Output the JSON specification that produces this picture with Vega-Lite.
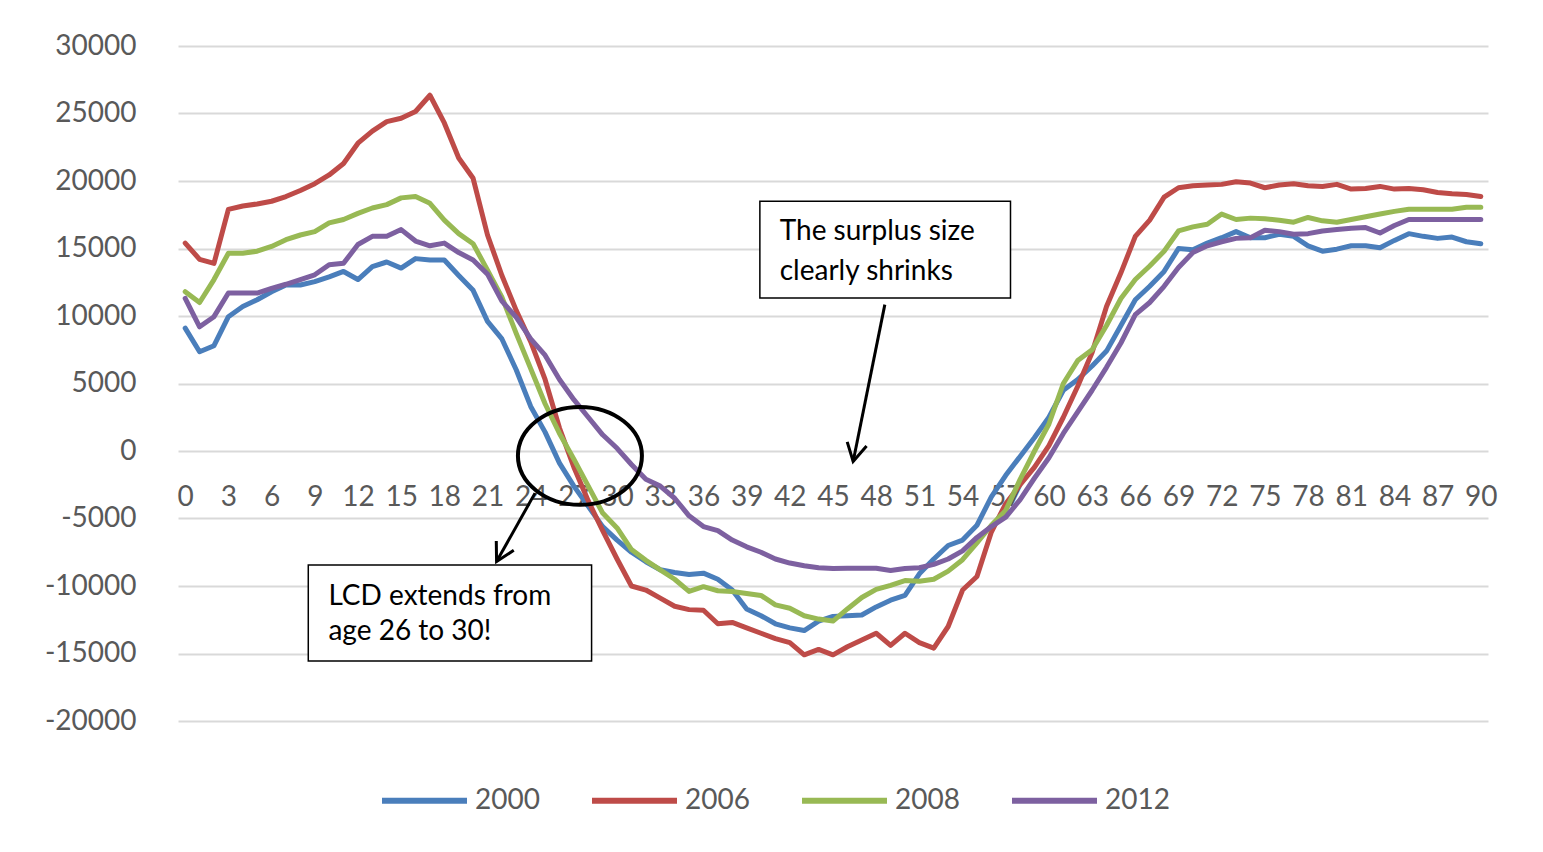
{
  "$schema": "https://vega.github.io/schema/vega-lite/v6.json",
  "width": 1310,
  "height": 675,
  "autosize": {"type": "none"},
  "padding": {"left": 178, "top": 46, "right": 55, "bottom": 131},
  "background": "white",
  "config": {"view": {"stroke": null}, "font": "Lato"},
  "datasets": {
    "series": [
      {"age":0,"year":"2000","value":9100},{"age":1,"year":"2000","value":7350},{"age":2,"year":"2000","value":7800},{"age":3,"year":"2000","value":9950},{"age":4,"year":"2000","value":10700},{"age":5,"year":"2000","value":11200},{"age":6,"year":"2000","value":11800},{"age":7,"year":"2000","value":12300},{"age":8,"year":"2000","value":12300},{"age":9,"year":"2000","value":12550},
      {"age":10,"year":"2000","value":12900},{"age":11,"year":"2000","value":13300},{"age":12,"year":"2000","value":12700},{"age":13,"year":"2000","value":13650},{"age":14,"year":"2000","value":14000},{"age":15,"year":"2000","value":13550},{"age":16,"year":"2000","value":14250},{"age":17,"year":"2000","value":14150},{"age":18,"year":"2000","value":14150},{"age":19,"year":"2000","value":13000},
      {"age":20,"year":"2000","value":11900},{"age":21,"year":"2000","value":9600},{"age":22,"year":"2000","value":8300},{"age":23,"year":"2000","value":6000},{"age":24,"year":"2000","value":3300},{"age":25,"year":"2000","value":1400},{"age":26,"year":"2000","value":-900},{"age":27,"year":"2000","value":-2600},{"age":28,"year":"2000","value":-4100},{"age":29,"year":"2000","value":-5600},
      {"age":30,"year":"2000","value":-6600},{"age":31,"year":"2000","value":-7500},{"age":32,"year":"2000","value":-8200},{"age":33,"year":"2000","value":-8800},{"age":34,"year":"2000","value":-9000},{"age":35,"year":"2000","value":-9150},{"age":36,"year":"2000","value":-9050},{"age":37,"year":"2000","value":-9500},{"age":38,"year":"2000","value":-10300},{"age":39,"year":"2000","value":-11700},
      {"age":40,"year":"2000","value":-12200},{"age":41,"year":"2000","value":-12800},{"age":42,"year":"2000","value":-13100},{"age":43,"year":"2000","value":-13300},{"age":44,"year":"2000","value":-12600},{"age":45,"year":"2000","value":-12250},{"age":46,"year":"2000","value":-12200},{"age":47,"year":"2000","value":-12150},{"age":48,"year":"2000","value":-11550},{"age":49,"year":"2000","value":-11050},
      {"age":50,"year":"2000","value":-10700},{"age":51,"year":"2000","value":-9100},{"age":52,"year":"2000","value":-8000},{"age":53,"year":"2000","value":-7000},{"age":54,"year":"2000","value":-6600},{"age":55,"year":"2000","value":-5500},{"age":56,"year":"2000","value":-3400},{"age":57,"year":"2000","value":-1800},{"age":58,"year":"2000","value":-400},{"age":59,"year":"2000","value":1000},
      {"age":60,"year":"2000","value":2500},{"age":61,"year":"2000","value":4500},{"age":62,"year":"2000","value":5300},{"age":63,"year":"2000","value":6300},{"age":64,"year":"2000","value":7400},{"age":65,"year":"2000","value":9300},{"age":66,"year":"2000","value":11200},{"age":67,"year":"2000","value":12200},{"age":68,"year":"2000","value":13300},{"age":69,"year":"2000","value":15000},
      {"age":70,"year":"2000","value":14900},{"age":71,"year":"2000","value":15400},{"age":72,"year":"2000","value":15800},{"age":73,"year":"2000","value":16250},{"age":74,"year":"2000","value":15800},{"age":75,"year":"2000","value":15800},{"age":76,"year":"2000","value":16050},{"age":77,"year":"2000","value":15900},{"age":78,"year":"2000","value":15200},{"age":79,"year":"2000","value":14800},
      {"age":80,"year":"2000","value":14950},{"age":81,"year":"2000","value":15200},{"age":82,"year":"2000","value":15200},{"age":83,"year":"2000","value":15050},{"age":84,"year":"2000","value":15600},{"age":85,"year":"2000","value":16100},{"age":86,"year":"2000","value":15900},{"age":87,"year":"2000","value":15750},{"age":88,"year":"2000","value":15850},{"age":89,"year":"2000","value":15500},{"age":90,"year":"2000","value":15350},

      {"age":0,"year":"2006","value":15400},{"age":1,"year":"2006","value":14200},{"age":2,"year":"2006","value":13900},{"age":3,"year":"2006","value":17900},{"age":4,"year":"2006","value":18150},{"age":5,"year":"2006","value":18300},{"age":6,"year":"2006","value":18500},{"age":7,"year":"2006","value":18850},{"age":8,"year":"2006","value":19300},{"age":9,"year":"2006","value":19800},
      {"age":10,"year":"2006","value":20450},{"age":11,"year":"2006","value":21300},{"age":12,"year":"2006","value":22800},{"age":13,"year":"2006","value":23700},{"age":14,"year":"2006","value":24400},{"age":15,"year":"2006","value":24650},{"age":16,"year":"2006","value":25150},{"age":17,"year":"2006","value":26350},{"age":18,"year":"2006","value":24300},{"age":19,"year":"2006","value":21700},
      {"age":20,"year":"2006","value":20200},{"age":21,"year":"2006","value":16000},{"age":22,"year":"2006","value":13000},{"age":23,"year":"2006","value":10400},{"age":24,"year":"2006","value":8100},{"age":25,"year":"2006","value":5300},{"age":26,"year":"2006","value":1700},{"age":27,"year":"2006","value":-1200},{"age":28,"year":"2006","value":-3700},{"age":29,"year":"2006","value":-5900},
      {"age":30,"year":"2006","value":-8000},{"age":31,"year":"2006","value":-10000},{"age":32,"year":"2006","value":-10300},{"age":33,"year":"2006","value":-10900},{"age":34,"year":"2006","value":-11500},{"age":35,"year":"2006","value":-11750},{"age":36,"year":"2006","value":-11800},{"age":37,"year":"2006","value":-12800},{"age":38,"year":"2006","value":-12700},{"age":39,"year":"2006","value":-13100},
      {"age":40,"year":"2006","value":-13500},{"age":41,"year":"2006","value":-13900},{"age":42,"year":"2006","value":-14200},{"age":43,"year":"2006","value":-15100},{"age":44,"year":"2006","value":-14700},{"age":45,"year":"2006","value":-15100},{"age":46,"year":"2006","value":-14500},{"age":47,"year":"2006","value":-14000},{"age":48,"year":"2006","value":-13500},{"age":49,"year":"2006","value":-14400},
      {"age":50,"year":"2006","value":-13500},{"age":51,"year":"2006","value":-14200},{"age":52,"year":"2006","value":-14600},{"age":53,"year":"2006","value":-13000},{"age":54,"year":"2006","value":-10300},{"age":55,"year":"2006","value":-9300},{"age":56,"year":"2006","value":-6000},{"age":57,"year":"2006","value":-3900},{"age":58,"year":"2006","value":-2500},{"age":59,"year":"2006","value":-1200},
      {"age":60,"year":"2006","value":400},{"age":61,"year":"2006","value":2500},{"age":62,"year":"2006","value":4800},{"age":63,"year":"2006","value":7300},{"age":64,"year":"2006","value":10700},{"age":65,"year":"2006","value":13200},{"age":66,"year":"2006","value":15900},{"age":67,"year":"2006","value":17100},{"age":68,"year":"2006","value":18800},{"age":69,"year":"2006","value":19500},
      {"age":70,"year":"2006","value":19650},{"age":71,"year":"2006","value":19700},{"age":72,"year":"2006","value":19750},{"age":73,"year":"2006","value":19950},{"age":74,"year":"2006","value":19850},{"age":75,"year":"2006","value":19500},{"age":76,"year":"2006","value":19700},{"age":77,"year":"2006","value":19800},{"age":78,"year":"2006","value":19650},{"age":79,"year":"2006","value":19600},
      {"age":80,"year":"2006","value":19750},{"age":81,"year":"2006","value":19400},{"age":82,"year":"2006","value":19450},{"age":83,"year":"2006","value":19600},{"age":84,"year":"2006","value":19400},{"age":85,"year":"2006","value":19450},{"age":86,"year":"2006","value":19350},{"age":87,"year":"2006","value":19150},{"age":88,"year":"2006","value":19050},{"age":89,"year":"2006","value":19000},{"age":90,"year":"2006","value":18850},

      {"age":0,"year":"2008","value":11800},{"age":1,"year":"2008","value":11000},{"age":2,"year":"2008","value":12700},{"age":3,"year":"2008","value":14650},{"age":4,"year":"2008","value":14650},{"age":5,"year":"2008","value":14800},{"age":6,"year":"2008","value":15150},{"age":7,"year":"2008","value":15650},{"age":8,"year":"2008","value":16000},{"age":9,"year":"2008","value":16250},
      {"age":10,"year":"2008","value":16900},{"age":11,"year":"2008","value":17150},{"age":12,"year":"2008","value":17600},{"age":13,"year":"2008","value":18000},{"age":14,"year":"2008","value":18250},{"age":15,"year":"2008","value":18750},{"age":16,"year":"2008","value":18850},{"age":17,"year":"2008","value":18350},{"age":18,"year":"2008","value":17100},{"age":19,"year":"2008","value":16100},
      {"age":20,"year":"2008","value":15350},{"age":21,"year":"2008","value":13400},{"age":22,"year":"2008","value":11400},{"age":23,"year":"2008","value":8700},{"age":24,"year":"2008","value":6100},{"age":25,"year":"2008","value":3500},{"age":26,"year":"2008","value":1300},{"age":27,"year":"2008","value":-600},{"age":28,"year":"2008","value":-2600},{"age":29,"year":"2008","value":-4600},
      {"age":30,"year":"2008","value":-5700},{"age":31,"year":"2008","value":-7300},{"age":32,"year":"2008","value":-8100},{"age":33,"year":"2008","value":-8800},{"age":34,"year":"2008","value":-9500},{"age":35,"year":"2008","value":-10400},{"age":36,"year":"2008","value":-10050},{"age":37,"year":"2008","value":-10350},{"age":38,"year":"2008","value":-10400},{"age":39,"year":"2008","value":-10550},
      {"age":40,"year":"2008","value":-10700},{"age":41,"year":"2008","value":-11400},{"age":42,"year":"2008","value":-11650},{"age":43,"year":"2008","value":-12200},{"age":44,"year":"2008","value":-12450},{"age":45,"year":"2008","value":-12600},{"age":46,"year":"2008","value":-11700},{"age":47,"year":"2008","value":-10850},{"age":48,"year":"2008","value":-10250},{"age":49,"year":"2008","value":-9950},
      {"age":50,"year":"2008","value":-9600},{"age":51,"year":"2008","value":-9650},{"age":52,"year":"2008","value":-9500},{"age":53,"year":"2008","value":-8900},{"age":54,"year":"2008","value":-8050},{"age":55,"year":"2008","value":-6800},{"age":56,"year":"2008","value":-5500},{"age":57,"year":"2008","value":-4400},{"age":58,"year":"2008","value":-2100},{"age":59,"year":"2008","value":0},
      {"age":60,"year":"2008","value":2000},{"age":61,"year":"2008","value":5000},{"age":62,"year":"2008","value":6700},{"age":63,"year":"2008","value":7500},{"age":64,"year":"2008","value":9300},{"age":65,"year":"2008","value":11300},{"age":66,"year":"2008","value":12700},{"age":67,"year":"2008","value":13700},{"age":68,"year":"2008","value":14800},{"age":69,"year":"2008","value":16300},
      {"age":70,"year":"2008","value":16600},{"age":71,"year":"2008","value":16800},{"age":72,"year":"2008","value":17550},{"age":73,"year":"2008","value":17150},{"age":74,"year":"2008","value":17250},{"age":75,"year":"2008","value":17200},{"age":76,"year":"2008","value":17100},{"age":77,"year":"2008","value":16950},{"age":78,"year":"2008","value":17300},{"age":79,"year":"2008","value":17050},
      {"age":80,"year":"2008","value":16950},{"age":81,"year":"2008","value":17150},{"age":82,"year":"2008","value":17350},{"age":83,"year":"2008","value":17550},{"age":84,"year":"2008","value":17750},{"age":85,"year":"2008","value":17900},{"age":86,"year":"2008","value":17900},{"age":87,"year":"2008","value":17900},{"age":88,"year":"2008","value":17900},{"age":89,"year":"2008","value":18050},{"age":90,"year":"2008","value":18050},

      {"age":0,"year":"2012","value":11300},{"age":1,"year":"2012","value":9200},{"age":2,"year":"2012","value":9950},{"age":3,"year":"2012","value":11700},{"age":4,"year":"2012","value":11700},{"age":5,"year":"2012","value":11700},{"age":6,"year":"2012","value":12050},{"age":7,"year":"2012","value":12350},{"age":8,"year":"2012","value":12700},{"age":9,"year":"2012","value":13050},
      {"age":10,"year":"2012","value":13800},{"age":11,"year":"2012","value":13900},{"age":12,"year":"2012","value":15300},{"age":13,"year":"2012","value":15900},{"age":14,"year":"2012","value":15900},{"age":15,"year":"2012","value":16400},{"age":16,"year":"2012","value":15550},{"age":17,"year":"2012","value":15200},{"age":18,"year":"2012","value":15400},{"age":19,"year":"2012","value":14700},
      {"age":20,"year":"2012","value":14150},{"age":21,"year":"2012","value":13100},{"age":22,"year":"2012","value":11100},{"age":23,"year":"2012","value":9900},{"age":24,"year":"2012","value":8300},{"age":25,"year":"2012","value":7100},{"age":26,"year":"2012","value":5300},{"age":27,"year":"2012","value":3800},{"age":28,"year":"2012","value":2500},{"age":29,"year":"2012","value":1200},
      {"age":30,"year":"2012","value":200},{"age":31,"year":"2012","value":-1000},{"age":32,"year":"2012","value":-2100},{"age":33,"year":"2012","value":-2600},{"age":34,"year":"2012","value":-3500},{"age":35,"year":"2012","value":-4800},{"age":36,"year":"2012","value":-5600},{"age":37,"year":"2012","value":-5900},{"age":38,"year":"2012","value":-6600},{"age":39,"year":"2012","value":-7100},
      {"age":40,"year":"2012","value":-7500},{"age":41,"year":"2012","value":-8000},{"age":42,"year":"2012","value":-8300},{"age":43,"year":"2012","value":-8500},{"age":44,"year":"2012","value":-8650},{"age":45,"year":"2012","value":-8700},{"age":46,"year":"2012","value":-8680},{"age":47,"year":"2012","value":-8680},{"age":48,"year":"2012","value":-8680},{"age":49,"year":"2012","value":-8850},
      {"age":50,"year":"2012","value":-8700},{"age":51,"year":"2012","value":-8650},{"age":52,"year":"2012","value":-8400},{"age":53,"year":"2012","value":-8000},{"age":54,"year":"2012","value":-7400},{"age":55,"year":"2012","value":-6400},{"age":56,"year":"2012","value":-5600},{"age":57,"year":"2012","value":-4900},{"age":58,"year":"2012","value":-3600},{"age":59,"year":"2012","value":-2000},
      {"age":60,"year":"2012","value":-500},{"age":61,"year":"2012","value":1300},{"age":62,"year":"2012","value":2900},{"age":63,"year":"2012","value":4500},{"age":64,"year":"2012","value":6200},{"age":65,"year":"2012","value":8000},{"age":66,"year":"2012","value":10100},{"age":67,"year":"2012","value":11000},{"age":68,"year":"2012","value":12200},{"age":69,"year":"2012","value":13600},
      {"age":70,"year":"2012","value":14700},{"age":71,"year":"2012","value":15200},{"age":72,"year":"2012","value":15500},{"age":73,"year":"2012","value":15750},{"age":74,"year":"2012","value":15800},{"age":75,"year":"2012","value":16350},{"age":76,"year":"2012","value":16250},{"age":77,"year":"2012","value":16050},{"age":78,"year":"2012","value":16100},{"age":79,"year":"2012","value":16300},
      {"age":80,"year":"2012","value":16400},{"age":81,"year":"2012","value":16500},{"age":82,"year":"2012","value":16550},{"age":83,"year":"2012","value":16150},{"age":84,"year":"2012","value":16700},{"age":85,"year":"2012","value":17150},{"age":86,"year":"2012","value":17150},{"age":87,"year":"2012","value":17150},{"age":88,"year":"2012","value":17150},{"age":89,"year":"2012","value":17150},{"age":90,"year":"2012","value":17150}
    ],
    "boxes": [
      {"age": 8.55, "age2": 28.23, "value": -8450, "value2": -15560},
      {"age": 39.92, "age2": 57.33, "value": 18500, "value2": 11330}
    ],
    "notes": [
      {"age": 9.95, "value": -11400, "label": "LCD extends from"},
      {"age": 9.95, "value": -14000, "label": "age 26 to 30!"},
      {"age": 41.3, "value": 15650, "label": "The surplus size"},
      {"age": 41.3, "value": 12690, "label": "clearly shrinks"}
    ],
    "arrows": [
      {"id": 1, "age": 48.6, "value": 10840, "age2": 46.4, "value2": -780},
      {"id": 2, "age": 24.3, "value": -3120, "age2": 21.63, "value2": -8190}
    ],
    "heads": [
      {"id": 1, "age": 46.4, "value": -780},
      {"id": 2, "age": 21.63, "value": -8190}
    ],
    "circle": [
      {"age": 27.42, "value": -360}
    ]
  },
  "encoding": {
    "x": {
      "field": "age", "type": "quantitative", "title": null,
      "scale": {"domain": [-0.5, 90.5], "nice": false, "zero": false},
      "axis": {
        "title": null, "values": [0,3,6,9,12,15,18,21,24,27,30,33,36,39,42,45,48,51,54,57,60,63,66,69,72,75,78,81,84,87,90],
        "format": "d", "offset": -270, "ticks": false, "domain": false, "grid": false,
        "labelPadding": 32, "labelFontSize": 28, "labelColor": "#595959", "labelFlush": false, "labelOverlap": false, "labelFont": "Lato"
      }
    },
    "y": {
      "field": "value", "type": "quantitative", "title": null,
      "scale": {"domain": [-20000, 30000], "nice": false},
      "axis": {
        "title": null, "values": [-20000,-15000,-10000,-5000,0,5000,10000,15000,20000,25000,30000],
        "labelExpr": "toString(datum.value)", "ticks": false, "domain": false, "grid": true,
        "gridColor": "#d9d9d9", "gridWidth": 2, "labelPadding": 42, "labelFontSize": 28, "labelColor": "#595959", "labelFont": "Lato"
      }
    }
  },
  "layer": [
    {
      "data": {"name": "series"},
      "mark": {"type": "line", "strokeWidth": 5, "strokeJoin": "round", "strokeCap": "round"},
      "encoding": {
        "color": {
          "field": "year", "type": "nominal",
          "scale": {"domain": ["2000", "2006", "2008", "2012"], "range": ["#4A7EBB", "#BE4B48", "#98B954", "#7D60A0"]},
          "legend": {
            "title": null, "orient": "none", "legendX": 201, "legendY": 709, "direction": "horizontal",
            "symbolType": "stroke", "symbolSize": 7225, "symbolStrokeWidth": 6,
            "labelFontSize": 28, "labelColor": "#595959", "labelOffset": 5, "columnPadding": 40, "labelFont": "Lato"
          }
        }
      }
    },
    {
      "data": {"name": "boxes"},
      "mark": {"type": "rect", "fill": "white", "stroke": "black", "strokeWidth": 1.5},
      "encoding": {
        "x2": {"field": "age2"},
        "y2": {"field": "value2"}
      }
    },
    {
      "data": {"name": "notes"},
      "mark": {"type": "text", "align": "left", "baseline": "alphabetic", "fontSize": 28, "font": "Lato", "color": "black"},
      "encoding": {
        "text": {"field": "label"}
      }
    },
    {
      "data": {"name": "arrows"},
      "mark": {"type": "rule", "strokeWidth": 3, "color": "black"},
      "encoding": {
        "x2": {"field": "age2"},
        "y2": {"field": "value2"}
      }
    },
    {
      "data": {"name": "heads"},
      "transform": [{"filter": "datum.id == 1"}],
      "mark": {"type": "point", "shape": "M -0.55 1 L 0 0 L 0.55 1", "size": 1296, "filled": false, "stroke": "black", "strokeWidth": 3, "opacity": 1, "angle": 192}
    },
    {
      "data": {"name": "heads"},
      "transform": [{"filter": "datum.id == 2"}],
      "mark": {"type": "point", "shape": "M -0.55 1 L 0 0 L 0.55 1", "size": 1296, "filled": false, "stroke": "black", "strokeWidth": 3, "opacity": 1, "angle": 208}
    },
    {
      "data": {"name": "circle"},
      "mark": {"type": "point", "shape": "M 1 0 C 1 0.4361 0.5523 0.79 0 0.79 C -0.5523 0.79 -1 0.4361 -1 0 C -1 -0.4361 -0.5523 -0.79 0 -0.79 C 0.5523 -0.79 1 -0.4361 1 0 Z", "size": 15376, "filled": false, "stroke": "black", "strokeWidth": 4, "opacity": 1}
    }
  ]
}
